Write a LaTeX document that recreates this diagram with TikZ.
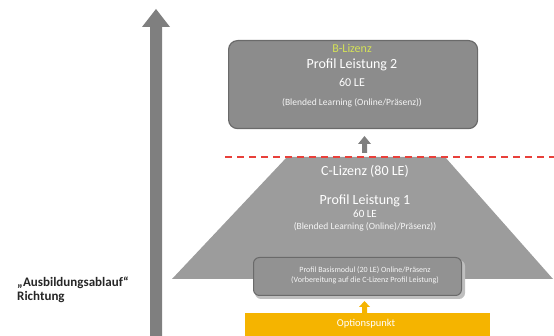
\documentclass[tikz,border=0pt]{standalone}
\usepackage{fontspec}
\setmainfont{Carlito}
\usetikzlibrary{shapes.geometric,arrows.meta}
\definecolor{boxgray}{HTML}{8C8C8C}
\definecolor{trapgray}{HTML}{9C9C9C}
\definecolor{edgegray}{HTML}{6A6A6A}
\definecolor{arrgray}{HTML}{7F7F7F}
\definecolor{orangebox}{HTML}{F5B400}
\definecolor{lizgreen}{HTML}{D4E157}
\definecolor{reddash}{HTML}{E8403A}
\tikzset{
  roundbox/.style={draw=edgegray, line width=1.2pt, fill=boxgray, rounded corners=9pt},
  wtext/.style={text=white, font=\fontsize{14}{15}\selectfont, inner sep=0pt},
  stext/.style={text=white!92!gray, font=\fontsize{9.5}{10}\selectfont, inner sep=0pt},
}
\begin{document}
\begin{tikzpicture}[x=1pt,y=-1pt]
\useasboundingbox (0,0) rectangle (554,336);
% big vertical arrow
\fill[arrgray] (150,336) -- (150,27) -- (142,27) -- (156,9) -- (170,27) -- (162,27) -- (162,336) -- cycle;
% top box
\node[roundbox, minimum width=249pt, minimum height=88pt, anchor=north west] (top) at (228,40) {};
\node[inner sep=0pt, font=\fontsize{12}{13}\selectfont, text=lizgreen] (blz) at (352,48) {B-Lizenz};
\node[wtext] (pl2) at (352,65) {Profil Leistung 2};
\node[wtext, font=\fontsize{12}{13}\selectfont] (le2) at (352,82) {60 LE};
\node[stext] (bl2) at (352,103) {(Blended Learning (Online/Präsenz))};
% trapezoid
\fill[trapgray] (287,157) -- (445,157) -- (553,279) -- (172,279) -- cycle;
\node[wtext] (clz) at (365,171) {C-Lizenz (80 LE)};
\node[wtext] (pl1) at (365,201) {Profil Leistung 1};
\node[wtext, font=\fontsize{11}{12}\selectfont] (le1) at (365,214) {60 LE};
\node[stext] (bl1) at (365,227) {(Blended Learning (Online)/Präsenz))};
% small gray arrow
\fill[arrgray] (362,153) -- (362,144) -- (358,144) -- (364.5,136) -- (371,144) -- (367,144) -- (367,153) -- cycle;
% red dashed line
\draw[reddash, line width=1.6pt, dash pattern=on 7pt off 5pt] (225,157) -- (554,157);
% bottom box
\fill[gray!50, rounded corners=6pt] (255,260) rectangle (465,299);
\node[roundbox, fill=boxgray!95!white, rounded corners=6pt, line width=1pt, minimum width=208pt, minimum height=38pt, anchor=north west] (bas) at (253,257) {};
\node[stext, font=\fontsize{8}{10}\selectfont, align=center] (bast) at (365,275) {Profil Basismodul (20 LE) Online/Präsenz\\(Vorbereitung auf die C-Lizenz Profil Leistung)};
% small orange arrow
\fill[orangebox] (362,313) -- (362,307) -- (359,307) -- (364.5,301) -- (370,307) -- (367,307) -- (367,313) -- cycle;
% orange box
\node[fill=orangebox, minimum width=245pt, minimum height=24pt, anchor=north west, inner sep=0pt] (opt) at (245,313) {};
\node[text=white, font=\fontsize{10.5}{11}\selectfont, inner sep=0pt] (optt) at (366,324) {Optionspunkt};
% left label
\node[anchor=west, inner sep=0pt, font=\fontsize{13}{14}\selectfont\bfseries, text=black!85, align=left] (lab) at (17,290) {„Ausbildungsablauf“\\Richtung};
\end{tikzpicture}
\end{document}
